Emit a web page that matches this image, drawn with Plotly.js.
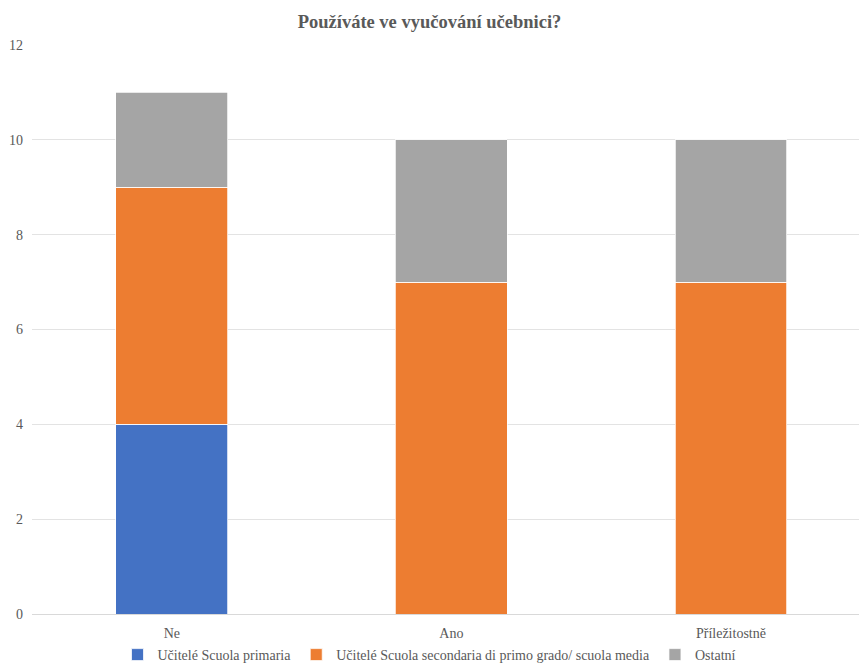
<!DOCTYPE html>
<html>
<head>
<meta charset="utf-8">
<script src="https://cdn.plot.ly/plotly-3.0.1.min.js"></script>
<style>html,body{margin:0;padding:0;background:#fff;overflow:hidden}</style>
</head>
<body>
<div id="chart" style="width:859px;height:663px"></div>
<script>
const categories = ["Ne", "Ano", "Příležitostně"];
const seriesNames = ["Učitelé Scuola primaria", "Učitelé Scuola secondaria di primo grado/ scuola media", "Ostatní"];
const primaria = [4, 0, 0];
const secondaria = [5, 7, 7];
const ostatni = [2, 3, 3];
const yTicks = [0, 2, 4, 6, 8, 10, 12];

const colors = ["#4472C4", "#ED7D31", "#A5A5A5"];
const values = [primaria, secondaria, ostatni];
const font = "Liberation Serif";

const traces = values.map((v, i) => ({
  type: "bar",
  name: seriesNames[i],
  x: categories,
  y: v,
  marker: {color: colors[i], line: {color: "#ffffff", width: 0.75}},
  hoverinfo: "none"
}));

const layout = {
  width: 859, height: 663,
  margin: {l: 32, r: 0, t: 45, b: 49},
  paper_bgcolor: "#ffffff", plot_bgcolor: "#ffffff",
  barmode: "stack",
  bargap: 0.6,
  font: {family: font, size: 14, color: "#595959"},
  title: {text: "<b>Používáte ve vyučování učebnici?</b>", x: 0.5, xanchor: "center",
          yref: "container", y: 0.968, yanchor: "middle",
          font: {family: font, size: 18.5, color: "#595959"}},
  xaxis: {
    range: [-0.5, 2.458],
    showgrid: false, zeroline: false, showline: false, ticks: "",
    ticklabelstandoff: 9,
    tickfont: {family: font, size: 14, color: "#595959"},
    fixedrange: true
  },
  yaxis: {
    range: [0, 12], tickvals: yTicks, ticktext: yTicks.map(String),
    showgrid: true, gridcolor: "#e3e3e3", gridwidth: 1,
    zeroline: true, zerolinecolor: "#d9d9d9", zerolinewidth: 1,
    ticks: "", ticklabelstandoff: 8,
    tickfont: {family: font, size: 14, color: "#595959"},
    fixedrange: true
  },
  showlegend: true,
  legend: {
    orientation: "h", x: 0.5, xanchor: "center", xref: "container",
    yref: "container", y: 0.002, yanchor: "bottom",
    bgcolor: "rgba(0,0,0,0)",
    font: {family: font, size: 14, color: "#595959"},
    itemwidth: 30, traceorder: "normal", tracegroupgap: 0,
    valign: "middle"
  }
};

Plotly.newPlot("chart", traces, layout, {displayModeBar: false, staticPlot: true}).then(gd => {
  // nudge legend so the items sit where the reference puts them, without clipping
  const lg = gd.querySelector(".legend");
  if (lg) {
    const t = lg.getAttribute("transform") || "";
    const m = t.match(/translate\(([-\d.]+),\s*([-\d.]+)\)/);
    if (m) {
      const bb = lg.getBBox();
      const curCenter = parseFloat(m[2]) + bb.y + bb.height / 2;
      const dy = 655 - curCenter;
      lg.setAttribute("transform", `translate(${m[1]},${parseFloat(m[2]) + dy})`);
    }
  }
});
</script>
</body>
</html>
